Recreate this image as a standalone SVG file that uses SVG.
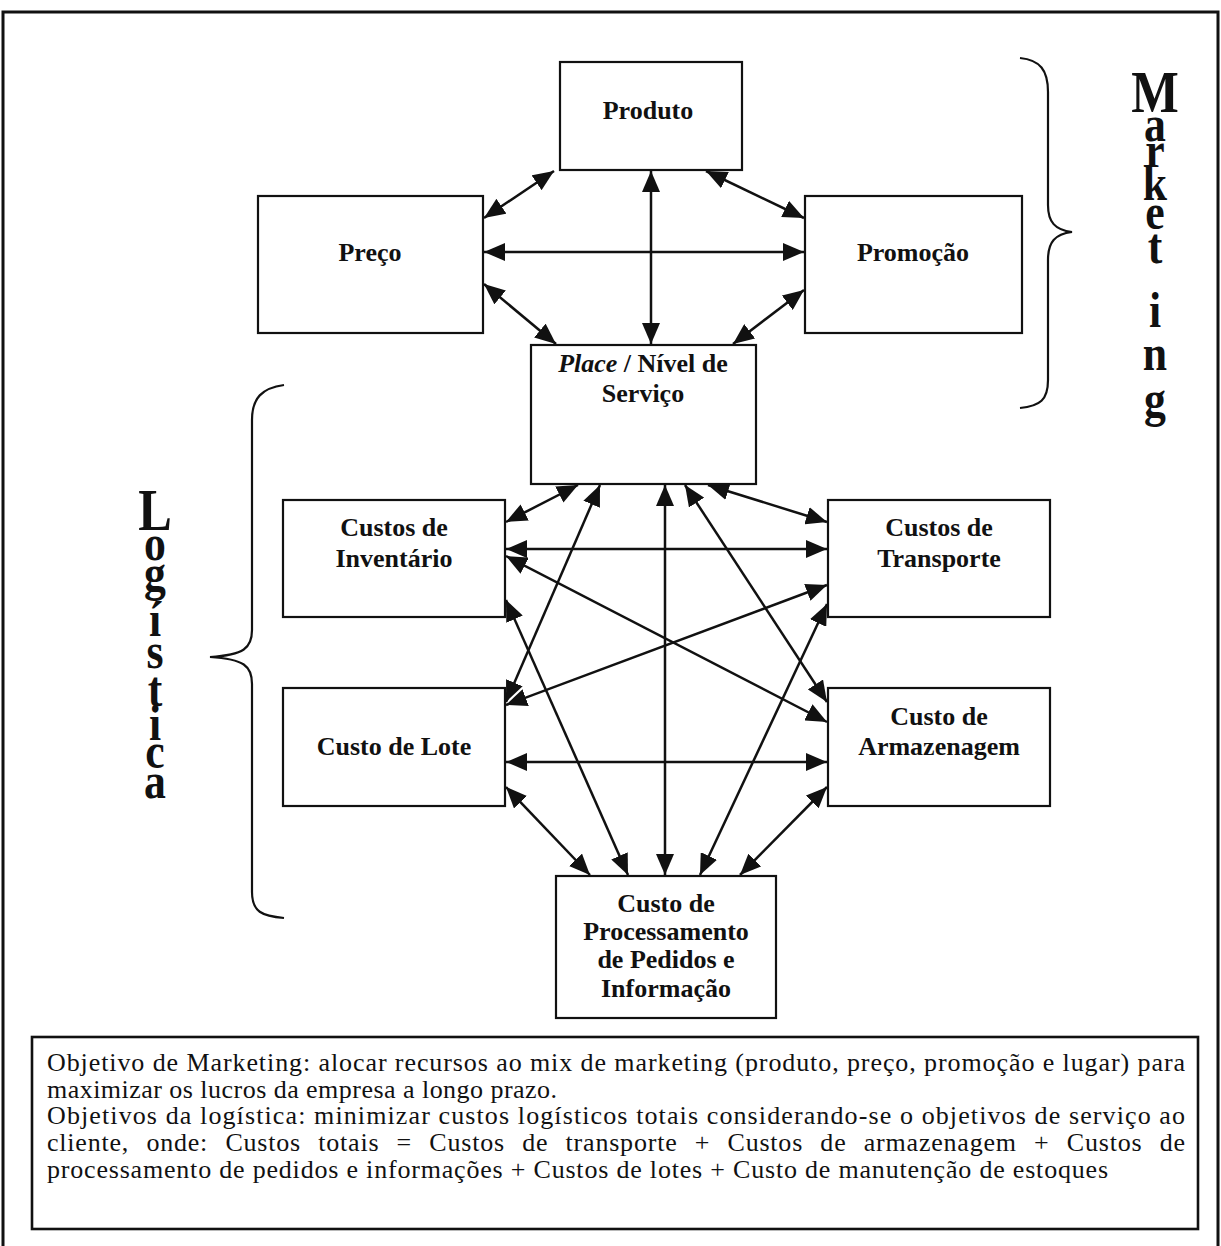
<svg xmlns="http://www.w3.org/2000/svg" width="1221" height="1246" viewBox="0 0 1221 1246">
  <style>
    .box { fill: #fff; stroke: #111; stroke-width: 2.2; }
    .lbl { font-family: "Liberation Serif", "Times New Roman", serif; font-weight: bold; font-size: 26px; fill: #111; text-anchor: middle; }
    .big { font-family: "Liberation Serif", "Times New Roman", serif; font-weight: bold; font-size: 46px; fill: #111; text-anchor: middle; }
    .cap { font-size: 53px; }
    .note { font-family: "Liberation Serif", "Times New Roman", serif; font-size: 26px; fill: #111; }
    .conn line { stroke: #111; stroke-width: 2.5; marker-start: url(#head); marker-end: url(#head); }
    .brace { fill: none; stroke: #111; stroke-width: 2.2; }
  </style>
  <defs>
    <marker id="head" markerUnits="userSpaceOnUse" markerWidth="22" markerHeight="18" refX="21" refY="9" orient="auto-start-reverse">
      <path d="M0,0 L21,9 L0,18 z" fill="#111"/>
    </marker>
  </defs>

  <rect width="1221" height="1246" fill="#fff"/>
  <!-- outer frame -->
  <rect x="3" y="12" width="1215" height="1260" fill="none" stroke="#111" stroke-width="3"/>

  <!-- connectors -->
  <g id="connectors" class="conn">
    <!-- marketing mix -->
    <line x1="554" y1="171" x2="484" y2="218"/>
    <line x1="706" y1="171" x2="804" y2="218"/>
    <line x1="651" y1="171" x2="651" y2="344"/>
    <line x1="484" y1="252" x2="804" y2="252"/>
    <line x1="484" y1="284" x2="556" y2="344"/>
    <line x1="804" y1="290" x2="733" y2="344"/>
    <!-- logistics -->
    <line x1="578" y1="485" x2="506" y2="522"/>
    <line x1="708" y1="485" x2="827" y2="522"/>
    <line x1="506" y1="549" x2="827" y2="549"/>
    <line x1="600" y1="485" x2="506" y2="702"/>
    <line x1="665" y1="485" x2="665" y2="875"/>
    <line x1="685" y1="485" x2="827" y2="702"/>
    <line x1="506" y1="556" x2="827" y2="722"/>
    <line x1="827" y1="585" x2="506" y2="705"/>
    <line x1="506" y1="600" x2="628" y2="875"/>
    <line x1="827" y1="604" x2="700" y2="875"/>
    <line x1="506" y1="762" x2="827" y2="762"/>
    <line x1="506" y1="787" x2="590" y2="875"/>
    <line x1="827" y1="787" x2="740" y2="875"/>
  </g>

  <!-- nodes -->
  <g id="produto">
    <rect class="box" x="560" y="62" width="182" height="108"/>
    <text class="lbl" x="648" y="119">Produto</text>
  </g>
  <g id="preco">
    <rect class="box" x="258" y="196" width="225" height="137"/>
    <text class="lbl" x="370" y="261">Preço</text>
  </g>
  <g id="promocao">
    <rect class="box" x="805" y="196" width="217" height="137"/>
    <text class="lbl" x="913" y="261">Promoção</text>
  </g>
  <g id="place">
    <rect class="box" x="531" y="345" width="225" height="139"/>
    <text class="lbl" x="643" y="372"><tspan font-style="italic">Place</tspan> / Nível de</text>
    <text class="lbl" x="643" y="402">Serviço</text>
  </g>
  <g id="inventario">
    <rect class="box" x="283" y="500" width="222" height="117"/>
    <text class="lbl" x="394" y="536">Custos de</text>
    <text class="lbl" x="394" y="567">Inventário</text>
  </g>
  <g id="transporte">
    <rect class="box" x="828" y="500" width="222" height="117"/>
    <text class="lbl" x="939" y="536">Custos de</text>
    <text class="lbl" x="939" y="567">Transporte</text>
  </g>
  <g id="lote">
    <rect class="box" x="283" y="688" width="222" height="118"/>
    <text class="lbl" x="394" y="755">Custo de Lote</text>
  </g>
  <g id="armazenagem">
    <rect class="box" x="828" y="688" width="222" height="118"/>
    <text class="lbl" x="939" y="725">Custo de</text>
    <text class="lbl" x="939" y="755">Armazenagem</text>
  </g>
  <g id="processamento">
    <rect class="box" x="556" y="876" width="220" height="142"/>
    <text class="lbl" x="666" y="912">Custo de</text>
    <text class="lbl" x="666" y="940">Processamento</text>
    <text class="lbl" x="666" y="968">de Pedidos e</text>
    <text class="lbl" x="666" y="997">Informação</text>
  </g>

  <!-- Marketing brace and stacked title (y values are divided by the 1.1 stretch) -->
  <g id="marketing">
    <path class="brace" d="M1020,58 C1040,60 1048,70 1048,92 L1048,205 C1048,222 1055,230 1072,232 C1055,234 1048,242 1048,260 L1048,380 C1048,400 1040,406 1020,408"/>
    <text class="big" transform="translate(1155,0) scale(0.95,1.1)"><tspan class="cap" x="0" y="101.8">M</tspan><tspan x="0" y="128.2">a</tspan><tspan x="0" y="151.8">r</tspan><tspan x="0" y="181.8">k</tspan><tspan x="0" y="208.2">e</tspan><tspan x="0" y="239.1">t</tspan><tspan x="0" y="297">i</tspan><tspan x="0" y="336.4">n</tspan><tspan x="0" y="378.2">g</tspan></text>
  </g>

  <!-- Logística brace and stacked title -->
  <g id="logistica">
    <path class="brace" d="M284,385 C262,388 252,398 252,420 L252,630 C252,648 244,655 210,657 C244,659 252,666 252,684 L252,892 C252,912 262,916 284,918"/>
    <text class="big" transform="translate(155,0) scale(0.95,1.1)"><tspan class="cap" x="0" y="481.8">L</tspan><tspan x="0" y="509.1">o</tspan><tspan x="0" y="536.4">g</tspan><tspan x="0" y="578.2">í</tspan><tspan x="0" y="607.3">s</tspan><tspan x="0" y="641.8">t</tspan><tspan x="0" y="672.7">i</tspan><tspan x="0" y="698.2">c</tspan><tspan x="0" y="725.5">a</tspan></text>
  </g>

  <!-- objectives note -->
  <g id="objetivos">
    <rect x="32" y="1037" width="1166" height="192" fill="#fff" stroke="#111" stroke-width="2.6"/>
    <text class="note" x="47" y="1071" textLength="1138" lengthAdjust="spacing">Objetivo de Marketing: alocar recursos ao mix de marketing (produto, preço, promoção e lugar) para</text>
    <text class="note" x="47" y="1098" textLength="510" lengthAdjust="spacing">maximizar os lucros da empresa a longo prazo.</text>
    <text class="note" x="47" y="1124" textLength="1138" lengthAdjust="spacing">Objetivos da logística: minimizar custos logísticos totais considerando-se o objetivos de serviço ao</text>
    <text class="note" x="47" y="1151" textLength="1138" lengthAdjust="spacing" word-spacing="10">cliente, onde: Custos totais = Custos de transporte + Custos de armazenagem + Custos de</text>
    <text class="note" x="47" y="1178" textLength="1061" lengthAdjust="spacing">processamento de pedidos e informações + Custos de lotes + Custo de manutenção de estoques</text>
  </g>
</svg>
